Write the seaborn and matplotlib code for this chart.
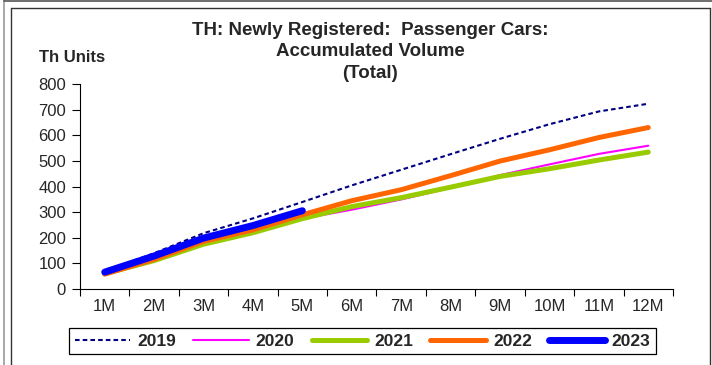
import matplotlib
matplotlib.use("Agg")
import matplotlib.pyplot as plt
from matplotlib.lines import Line2D
import seaborn as sns
import pandas as pd

# Accumulated newly registered passenger cars, thousand units
months = ["1M", "2M", "3M", "4M", "5M", "6M", "7M", "8M", "9M", "10M", "11M", "12M"]
v2019 = [70, 140, 218, 276, 340, 405, 466, 527, 587, 644, 694, 724]
v2020 = [61, 114, 180, 225, 275, 310, 350, 395, 445, 487, 528, 560]
v2021 = [60, 111, 175, 220, 275, 322, 357, 398, 440, 470, 504, 535]
v2022 = [58, 116, 186, 231, 290, 345, 388, 443, 500, 544, 592, 631]
v2023 = [66, 129, 199, 248, 306]

years = ["2019", "2020", "2021", "2022", "2023"]
values = [v2019, v2020, v2021, v2022, v2023]
colors = ["#000080", "#FF00FF", "#99CC00", "#FF6600", "#0000FF"]
widths = [1.5, 1.5, 3.6, 3.6, 5.0]
styles = [(0, (2.2, 1.5)), "-", "-", "-", "-"]

sns.set_theme(style="white")
plt.rcParams["font.family"] = ["Liberation Sans", "DejaVu Sans"]

W, H = 712, 365
fig = plt.figure(figsize=(W / 100, H / 100), dpi=100)
ax = fig.add_axes([80 / W, 1 - 289 / H, (673 - 80) / W, (289 - 84.3) / H])

for yr, vals, c, lw, ls in zip(years, values, colors, widths, styles):
    df = pd.DataFrame({"month": months[:len(vals)], "units": vals})
    df["pos"] = range(len(vals))
    sns.lineplot(data=df, x="pos", y="units", ax=ax, color=c, linewidth=lw,
                 linestyle=ls, label=yr, legend=False)
for ln in ax.get_lines():
    ln.set_solid_capstyle("round")
    ln.set_dash_capstyle("butt")

ax.set_xlim(-0.5, 11.5)
ax.set_ylim(0, 800)
ax.set_xticks(range(len(months)))
ax.set_xticklabels(months, fontsize=12)
ax.set_xticks([i - 0.5 for i in range(len(months) + 1)], minor=True)
ax.tick_params(axis="x", which="major", length=0, pad=7)
ax.tick_params(axis="x", which="minor", length=5, width=0.8, color="black", direction="out", bottom=True)
ax.set_yticks(range(0, 801, 100))
ax.tick_params(axis="y", labelsize=12, length=6, width=0.8, color="black", direction="out", left=True, pad=4)
ax.set_xlabel("")
ax.set_ylabel("")
for s in ["top", "right"]:
    ax.spines[s].set_visible(False)
for s in ["left", "bottom"]:
    ax.spines[s].set_color("black")
    ax.spines[s].set_linewidth(0.8)

fig.text(370 / W, 1 - 52 / H, "TH: Newly Registered:  Passenger Cars:\nAccumulated Volume\n(Total)",
         ha="center", va="center", fontsize=13.5, fontweight="bold", linespacing=1.32)
fig.text(72 / W, 1 - 57 / H, "Th Units", ha="center", va="center", fontsize=12, fontweight="bold")

handles = [Line2D([], [], color=c, linewidth=lw, linestyle=ls, solid_capstyle="round")
           for c, lw, ls in zip(colors, widths, styles)]
leg = ax.legend(handles, years, ncol=5, loc="center",
                bbox_to_anchor=(362.5 / W, 1 - 341 / H), bbox_transform=fig.transFigure,
                frameon=True, fancybox=False, edgecolor="black", framealpha=1,
                handlelength=3.2, handletextpad=0.4, columnspacing=1.0, borderpad=0.3,
                prop={"weight": "bold", "size": 12.5})
leg.get_frame().set_linewidth(0.9)

# chart frame lines
fig.add_artist(Line2D([4 / W, 4 / W], [0, 1], transform=fig.transFigure, color="#999999", lw=1.2))
fig.add_artist(Line2D([4 / W, 1], [1 - 1 / H, 1 - 1 / H], transform=fig.transFigure, color="#555555", lw=1.2))
fig.add_artist(Line2D([11 / W, 11 / W], [0, 1 - 8 / H], transform=fig.transFigure, color="#333333", lw=1.0))
fig.add_artist(Line2D([11 / W, 710 / W], [1 - 8 / H, 1 - 8 / H], transform=fig.transFigure, color="#333333", lw=1.0))
fig.add_artist(Line2D([710 / W, 710 / W], [0, 1 - 8 / H], transform=fig.transFigure, color="#333333", lw=1.0))

fig.savefig("out.png", dpi=100)
